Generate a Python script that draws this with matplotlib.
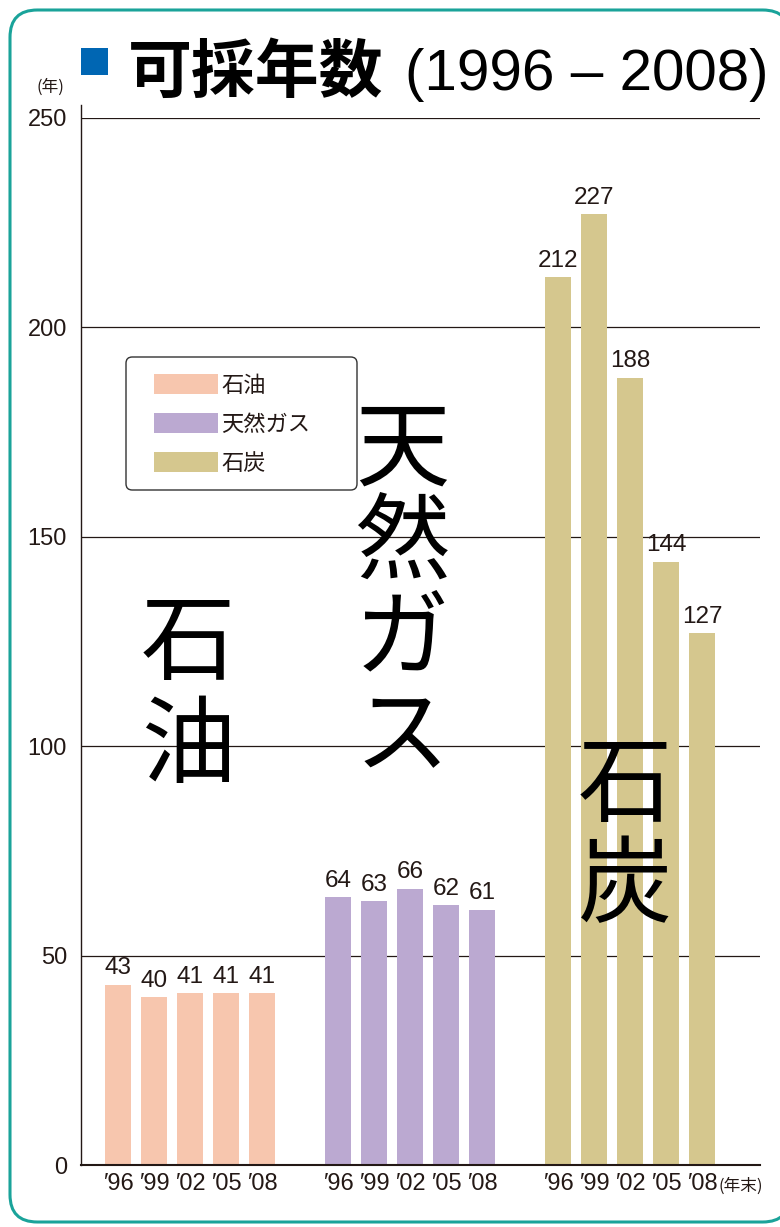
import matplotlib
matplotlib.use("Agg")
import matplotlib.pyplot as plt
from matplotlib.patches import FancyBboxPatch, Rectangle

plt.rcParams['font.family'] = ['Liberation Sans', 'Noto Sans CJK JP', 'DejaVu Sans']

# ---- data ----
years = ["′96", "′99", "′02", "′05", "′08"]
fuels = ["石油", "天然ガス", "石炭"]
oil = [43, 40, 41, 41, 41]
gas = [64, 63, 66, 62, 61]
coal = [212, 227, 188, 144, 127]
colors = ["#F7C6AE", "#BBA9D1", "#D5C78E"]
yticks = [0, 50, 100, 150, 200, 250]

W, H = 780, 1227
fig = plt.figure(figsize=(W / 100, H / 100), dpi=100)

def fx(px):
    return px / W

def fy(py):
    return 1 - py / H

# rounded frame
frame = FancyBboxPatch((fx(10), fy(1222)), fx(790) - fx(10), fy(10) - fy(1222),
                       boxstyle="round,pad=0,rounding_size=0.035",
                       transform=fig.transFigure, facecolor="white",
                       edgecolor="#1AA39A", linewidth=2.2, zorder=-5,
                       mutation_aspect=W / H)
fig.patches.append(frame)

ax = fig.add_axes([fx(81), fy(1165), fx(760) - fx(81), fy(118) - fy(1165)])
ax.set_facecolor("none")

unit = 36.0
group_gap = 220.0 / unit
width = 26.0 / unit
series = [oil, gas, coal]
xpos_all, xlab_all = [], []
for g, vals in enumerate(series):
    xs = [g * group_gap + i for i in range(len(vals))]
    ax.bar(xs, vals, width=width, color=colors[g], label=fuels[g], zorder=2)
    for x, v in zip(xs, vals):
        ax.text(x, v + 1.3, str(v), ha="center", va="bottom", fontsize=17.5,
                color="#231815", zorder=3)
    xpos_all += xs
    xlab_all += years

ax.set_xlim(-37.0 / unit, (760 - 118) / unit)
ax.set_ylim(0, 250)
ax.set_yticks(yticks)
ax.set_yticklabels([str(t) for t in yticks], fontsize=17, color="#231815")
ax.set_xticks(xpos_all)
ax.set_xticklabels(xlab_all, fontsize=17, color="#231815")
ax.tick_params(axis="both", length=0, pad=6)
ax.tick_params(axis="y", pad=10)
for yv in yticks[1:]:
    ax.axhline(yv, color="#231815", linewidth=0.9, zorder=1)
for s in ["top", "right"]:
    ax.spines[s].set_visible(False)
ax.spines["left"].set_color("#231815")
ax.spines["bottom"].set_color("#231815")
ax.spines["left"].set_linewidth(1.0)
ax.spines["bottom"].set_linewidth(1.5)
ax.spines["left"].set_bounds(0, 253)
ax.spines["left"].set_clip_on(False)

# legend frame
lframe = FancyBboxPatch((fx(126), fy(490)), fx(357) - fx(126), fy(357) - fy(490),
                        boxstyle="round,pad=0,rounding_size=0.008",
                        transform=fig.transFigure, facecolor="white",
                        edgecolor="#333333", linewidth=1.0, zorder=3,
                        mutation_aspect=W / H)
fig.patches.append(lframe)

handles, labels = ax.get_legend_handles_labels()
leg = fig.legend(handles, labels, loc="upper left",
                 bbox_to_anchor=(fx(154), fy(374)),
                 prop={'family': ['Noto Sans CJK JP'], 'size': 16},
                 handlelength=2.9, handleheight=1.0, handletextpad=0.12,
                 labelspacing=0.72, borderpad=0, borderaxespad=0,
                 frameon=False)
leg.set_zorder(6)
for t in leg.get_texts():
    t.set_color("#231815")

# big vertical labels
def vtext(chars, xc, ycs):
    for ch, yc in zip(chars, ycs):
        fig.text(fx(xc), fy(yc), ch, ha="center", va="center", fontsize=68,
                 family=['Noto Sans CJK JP'], color="black", zorder=5)

vtext("石油", 188, [645, 748])
vtext("天然ガス", 402, [452, 545, 640, 738])
vtext("石炭", 625, [787, 888])

# title
fig.patches.append(Rectangle((fx(81), fy(75)), fx(27), fy(48) - fy(75),
                             transform=fig.transFigure, facecolor="#0066B3",
                             edgecolor="none"))
fig.text(fx(128), fy(92), "可採年数", fontsize=46, fontweight="bold",
         family=['Noto Sans CJK JP'], ha="left", va="baseline", color="black")
fig.text(fx(405), fy(90), "(1996 – 2008)", fontsize=42,
         family=['Liberation Sans'], ha="left",
         va="baseline", color="black")

# unit labels
fig.text(fx(50), fy(87), "(年)", fontsize=12, family=['Noto Sans CJK JP'],
         ha="center", va="center", color="#231815")
fig.text(fx(741), fy(1186), "(年末)", fontsize=12, family=['Noto Sans CJK JP'],
         ha="center", va="center", color="#231815")

fig.savefig("out.png", dpi=100)
